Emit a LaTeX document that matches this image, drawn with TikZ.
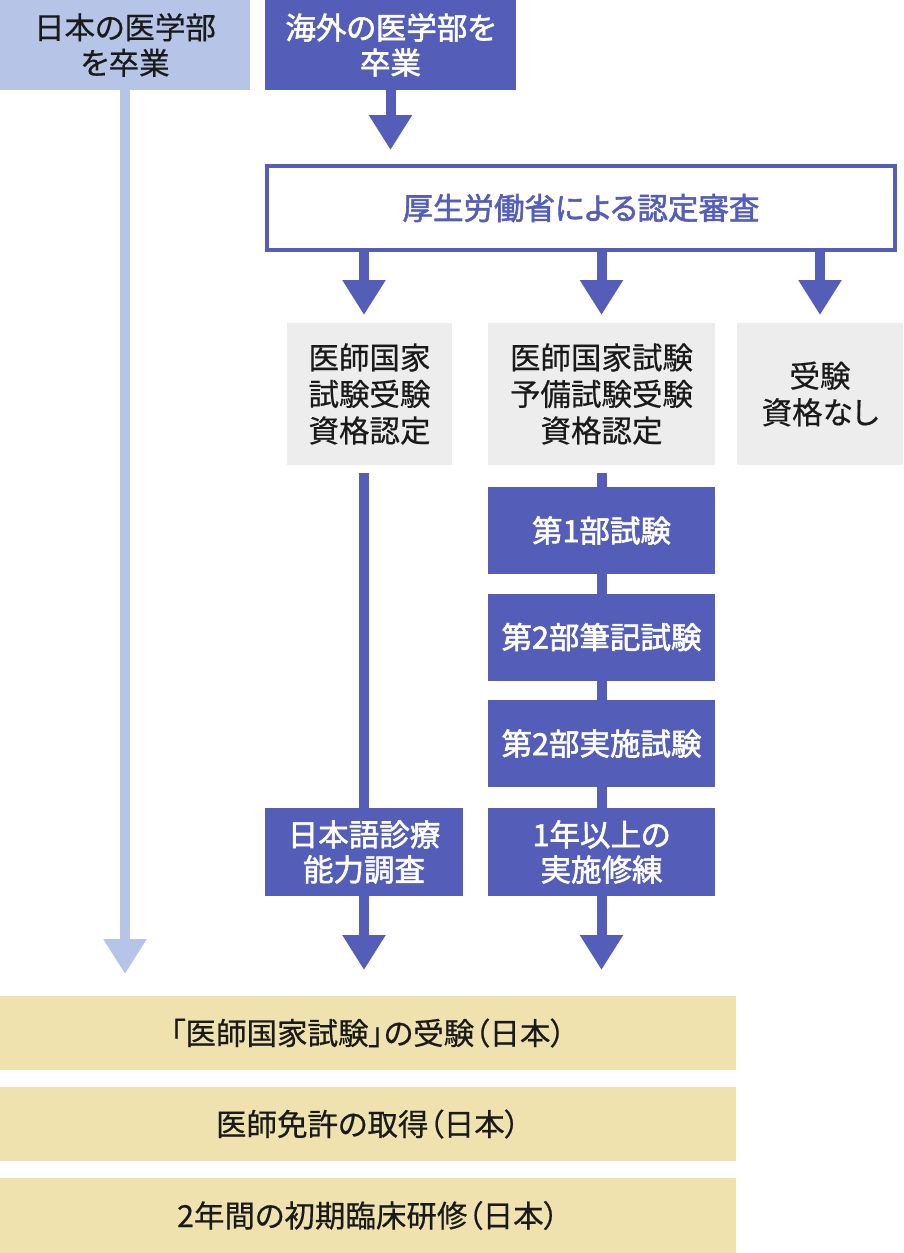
\documentclass[tikz,border=0pt]{standalone}
\usepackage{fontspec}
\usetikzlibrary{arrows.meta}
\newfontfamily\jp[RawFeature=+palt, FakeBold=0.5]{Noto Sans CJK JP}
\newfontfamily\jpb[RawFeature=+palt, FakeBold=1.9]{Noto Sans CJK JP}
\definecolor{dblue}{RGB}{84,94,185}
\definecolor{lblue}{RGB}{181,196,231}
\definecolor{lgray}{RGB}{237,237,237}
\definecolor{beige}{RGB}{240,226,174}
\definecolor{txt}{RGB}{26,26,26}
\tikzset{
  base/.style={inner sep=0pt, outer sep=0pt, align=center, font=\jp\fontsize{30.5}{35.5}\selectfont},
  lbox/.style={base, fill=lblue, text=txt},
  dbox/.style={base, fill=dblue, text=white, font=\jpb\fontsize{30.5}{35}\selectfont},
  gbox/.style={base, fill=lgray, text=txt, font=\jp\fontsize{30.5}{36.5}\selectfont},
  ybox/.style={base, fill=beige, text=txt, minimum width=736pt},
  obox/.style={base, draw=dblue, line width=4pt, fill=white, text=dblue, font=\jpb\fontsize{30.5}{35}\selectfont},
  arr/.style={draw=dblue, line width=10pt, -{Triangle[length=35pt,width=41pt]}},
  larr/.style={draw=lblue, line width=10pt, -{Triangle[length=35pt,width=41pt]}},
  conn/.style={draw=dblue, line width=10pt}
}
\begin{document}
\begin{tikzpicture}[x=1pt,y=-1pt]
\useasboundingbox (0,0) rectangle (903,1253);
% top boxes
\node[lbox, minimum width=250pt, minimum height=90pt] (A) at (125,45) {日本の医学部\\を卒業};
\node[dbox, minimum width=251pt, minimum height=90pt] (B) at (390.5,45) {海外の医学部を\\卒業};
\node[obox, minimum width=628pt, minimum height=84pt] (C) at (581,208) {厚生労働省による認定審査};
% gray boxes
\node[gbox, minimum width=165pt, minimum height=142pt] (D1) at (369.5,394) {医師国家\\試験受験\\資格認定};
\node[gbox, minimum width=227pt, minimum height=142pt] (D2) at (601.5,394) {医師国家試験\\予備試験受験\\資格認定};
\node[gbox, minimum width=166pt, minimum height=142pt] (D3) at (820,394) {受験\\資格なし};
% blue steps
\node[dbox, minimum width=227pt, minimum height=87pt] (F1) at (601.5,530.5) {第1部試験};
\node[dbox, minimum width=227pt, minimum height=87pt] (F2) at (601.5,637) {第2部筆記試験};
\node[dbox, minimum width=227pt, minimum height=87pt] (F3) at (601.5,743.5) {第2部実施試験};
\node[dbox, minimum width=227pt, minimum height=88pt] (F4) at (601.5,852) {1年以上の\\実施修練};
\node[dbox, minimum width=198pt, minimum height=88pt] (E1) at (364,852) {日本語診療\\能力調査};
% bottom boxes
\node[ybox, minimum height=74pt] (G1) at (368,1033) {「医師国家試験」の受験（日本）};
\node[ybox, minimum height=74pt] (G2) at (368,1124) {医師免許の取得（日本）};
\node[ybox, minimum height=75pt] (G3) at (368,1215.5) {2年間の初期臨床研修（日本）};
% connectors
\draw[arr, shorten >=16pt] (B.south) -- (C.north -| B);
\draw[arr, shorten >=8pt] (C.south -| E1) -- (D1.north -| E1);
\draw[arr, shorten >=8pt] (C.south -| F1) -- (D2.north -| F1);
\draw[arr, shorten >=8pt] (C.south -| D3) -- (D3.north);
\draw[conn, shorten <=8pt] (D1.south -| E1) -- (E1.north);
\draw[conn, shorten <=8pt] (D2.south -| F1) -- (F1.north);
\draw[conn] (F1.south) -- (F2.north);
\draw[conn] (F2.south) -- (F3.north);
\draw[conn] (F3.south) -- (F4.north);
\draw[arr, shorten >=26pt] (E1.south) -- (G1.north -| E1);
\draw[arr, shorten >=26pt] (F4.south) -- (G1.north -| F4);
\draw[larr, shorten >=22pt] (A.south) -- (G1.north -| A);
\end{tikzpicture}
\end{document}
